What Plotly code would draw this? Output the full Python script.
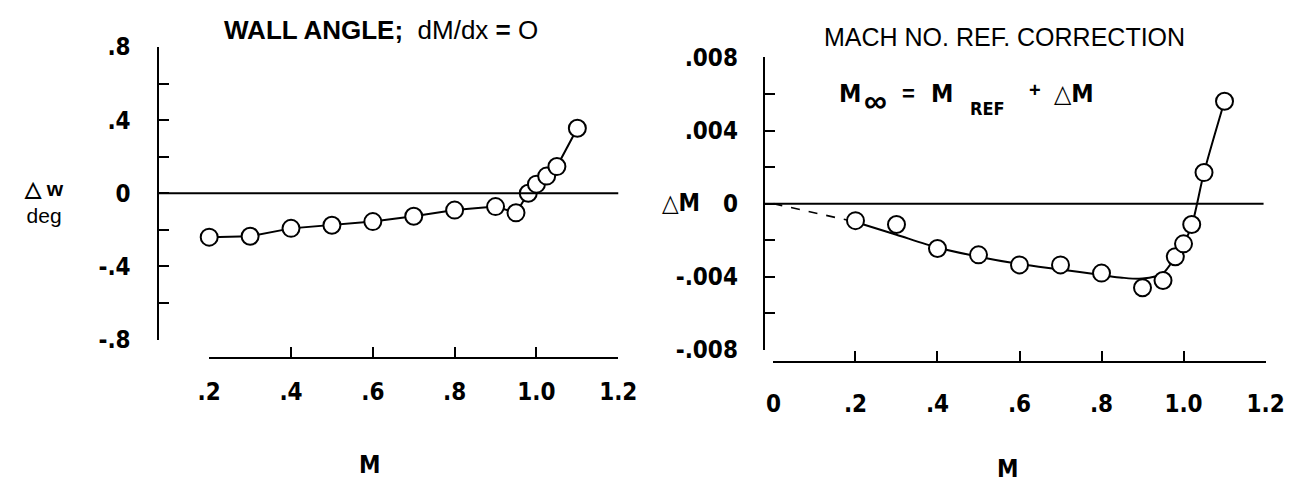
import plotly.graph_objects as go

W, H = 1306, 496

# ---- data: left panel (wall angle) ----
wall_M = [0.2, 0.3, 0.4, 0.5, 0.6, 0.7, 0.8, 0.9, 0.95, 0.98, 1.0, 1.025, 1.05, 1.1]
wall_dw = [-0.24, -0.235, -0.192, -0.175, -0.155, -0.126, -0.092, -0.073, -0.107, 0.0, 0.05, 0.094, 0.146, 0.356]

# ---- data: right panel (Mach no. ref correction) ----
mach_M = [0.2, 0.3, 0.4, 0.5, 0.6, 0.7, 0.8, 0.9, 0.95, 0.98, 1.0, 1.02, 1.05, 1.1]
mach_dM = [-0.00093, -0.00114, -0.00245, -0.0028, -0.00335, -0.00335, -0.0038, -0.0046, -0.0042,
           -0.0029, -0.0022, -0.00114, 0.0017, 0.0056]
fair_M = [0.2, 0.3, 0.4, 0.5, 0.6, 0.7, 0.8, 0.85, 0.9, 0.95, 0.98, 1.0, 1.02, 1.05, 1.1]
fair_dM = [-0.001, -0.0017, -0.0024, -0.0029, -0.0033, -0.0036, -0.0039, -0.00405, -0.0041, -0.0038,
           -0.0029, -0.0022, -0.0012, 0.0017, 0.0056]
dash_M = [0.0, 0.2]
dash_dM = [0.0, -0.001]

left_xticks = [0.2, 0.4, 0.6, 0.8, 1.0, 1.2]
left_xlabels = [".2", ".4", ".6", ".8", "1.0", "1.2"]
left_yticks = [0.8, 0.6, 0.4, 0.2, 0.0, -0.2, -0.4, -0.6, -0.8]
left_ylabels = [".8", "", ".4", "", "0", "", "-.4", "", "-.8"]
right_xticks = [0.0, 0.2, 0.4, 0.6, 0.8, 1.0, 1.2]
right_xlabels = ["0", ".2", ".4", ".6", ".8", "1.0", "1.2"]
right_yticks = [0.008, 0.006, 0.004, 0.002, 0.0, -0.002, -0.004, -0.006, -0.008]
right_ylabels = [".008", "", ".004", "", "0", "", "-.004", "", "-.008"]

FONT = "Liberation Sans, Arial, sans-serif"
NARROW = "Liberation Sans Narrow, DejaVu Sans Condensed, Liberation Sans, Arial, sans-serif"
TICKFONT = dict(family=NARROW, size=24, color="black", weight="bold")

def px(x):
    return x / W

def py(y):
    return 1 - y / H

marker = dict(symbol="circle", size=17, color="white", line=dict(color="black", width=2))

fig = go.Figure()
fig.add_trace(go.Scatter(x=wall_M, y=wall_dw, mode="lines+markers", xaxis="x", yaxis="y",
                         line=dict(color="black", width=2), marker=marker, cliponaxis=False,
                         showlegend=False))
fig.add_trace(go.Scatter(x=dash_M, y=dash_dM, mode="lines", xaxis="x2", yaxis="y2",
                         line=dict(color="black", width=1.6, dash="dash"), showlegend=False))
fig.add_trace(go.Scatter(x=fair_M, y=fair_dM, mode="lines", xaxis="x2", yaxis="y2",
                         line=dict(color="black", width=2, shape="spline", smoothing=0.8),
                         showlegend=False))
fig.add_trace(go.Scatter(x=mach_M, y=mach_dM, mode="markers", xaxis="x2", yaxis="y2",
                         marker=marker, cliponaxis=False, showlegend=False))

axis_common = dict(showgrid=False, zeroline=False, showline=True, linecolor="black", linewidth=2,
                   ticks="inside", ticklen=10, tickwidth=2, tickcolor="black", tickfont=TICKFONT,
                   tickmode="array", fixedrange=True)

fig.update_layout(
    width=W, height=H, autosize=False,
    margin=dict(l=0, r=0, t=0, b=0),
    paper_bgcolor="white", plot_bgcolor="white",
    xaxis=dict(axis_common, domain=[px(202), px(621)], range=[0.2, 1.2], anchor="free",
               position=py(365), tickvals=left_xticks, ticktext=left_xlabels, ticklabelstandoff=12),
    yaxis=dict(axis_common, domain=[py(345), py(35)], range=[-0.8, 0.8], anchor="free",
               position=px(150), tickvals=left_yticks, ticktext=left_ylabels, ticklabelstandoff=22),
    xaxis2=dict(axis_common, domain=[px(780), px(1284)], range=[0.0, 1.2], anchor="free",
                position=py(369), tickvals=right_xticks, ticktext=right_xlabels, ticklabelstandoff=20),
    yaxis2=dict(axis_common, domain=[py(356), py(46)], range=[-0.008, 0.008], anchor="free",
                position=px(770), tickvals=right_yticks, ticktext=right_ylabels, ticklabelstandoff=20),
)

# zero reference lines
fig.add_shape(type="line", xref="paper", yref="y", x0=px(150), x1=px(621), y0=0, y1=0,
              line=dict(color="black", width=2))
fig.add_shape(type="line", xref="paper", yref="y2", x0=px(770), x1=px(1282), y0=0, y1=0,
              line=dict(color="black", width=2))

def ann(text, x, y, size=20, bold=False, family=FONT):
    fig.add_annotation(text=text, x=px(x), y=py(y), xref="paper", yref="paper", showarrow=False,
                       xanchor="center", yanchor="middle",
                       font=dict(family=family, size=size, color="black",
                                 weight="bold" if bold else "normal"))

ann("<b>WALL ANGLE;</b>  dM/dx <b>=</b> O", 378, 17, size=26)
ann("MACH NO. REF. CORRECTION", 1017, 24, size=25)
fig.add_annotation(text="<b>△ w</b><br>deg", x=px(33), y=py(199), xref="paper", yref="paper",
                   showarrow=False, xanchor="center", yanchor="middle", align="center",
                   font=dict(family=FONT, size=21, color="black"))
ann("△M", 685, 200, size=24, bold=True, family=NARROW)
ann("M", 367, 478, size=24, bold=True, family=NARROW)
ann("M", 1020, 482, size=24, bold=True, family=NARROW)
# formula  M∞ = M_REF + ΔM
ann("M", 858, 84, size=25, bold=True, family=NARROW)
ann("∞", 885, 92, size=32, bold=True)
ann("=", 918, 84, size=22, bold=True)
ann("M", 953, 84, size=25, bold=True, family=NARROW)
ann("REF", 999, 100, size=18, bold=True, family=NARROW)
ann("+", 1048, 81, size=20, bold=True)
ann("△M", 1088, 84, size=25, bold=True, family=NARROW)

fig.write_html("out.html")
